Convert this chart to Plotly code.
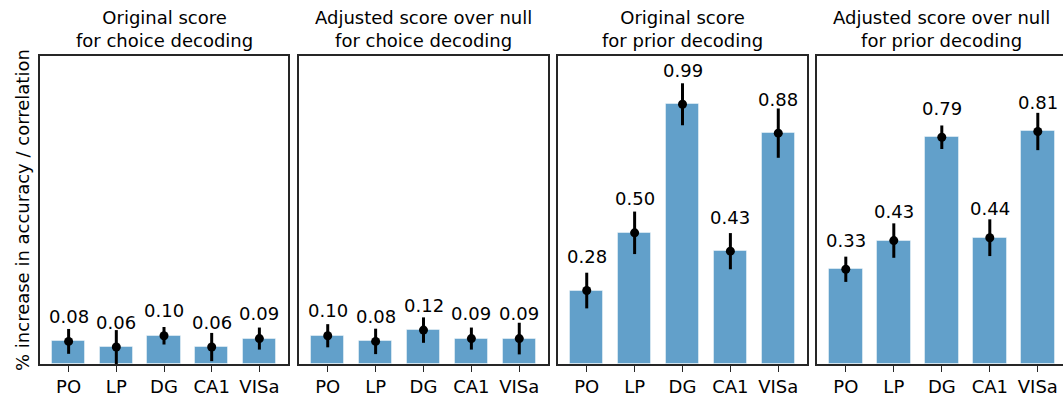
import plotly.graph_objects as go

# Brain regions shown in every panel
regions = ["PO", "LP", "DG", "CA1", "VISa"]

# Panel titles
titles = [
    "Original score<br>for choice decoding",
    "Adjusted score over null<br>for choice decoding",
    "Original score<br>for prior decoding",
    "Adjusted score over null<br>for prior decoding",
]

# Mean scores per region (one list per panel)
choice_original = [0.08, 0.06, 0.10, 0.06, 0.09]
choice_adjusted = [0.10, 0.08, 0.12, 0.09, 0.09]
prior_original = [0.28, 0.50, 0.99, 0.43, 0.88]
prior_adjusted = [0.33, 0.43, 0.79, 0.44, 0.81]

# Error bar half-widths per region
choice_original_err = [0.044, 0.060, 0.031, 0.050, 0.039]
choice_adjusted_err = [0.041, 0.045, 0.045, 0.039, 0.056]
prior_original_err = [0.068, 0.081, 0.080, 0.069, 0.094]
prior_adjusted_err = [0.044, 0.060, 0.041, 0.064, 0.065]

values = [choice_original, choice_adjusted, prior_original, prior_adjusted]
errors = [choice_original_err, choice_adjusted_err, prior_original_err, prior_adjusted_err]

W, H = 1063, 398
FONT = "DejaVu Sans"
BAR_COLOR = "rgba(31,119,180,0.7)"
SPINE = "#262626"

# pixel layout of the four panels
panel_x = [(40, 288), (299, 548), (558, 807), (817, 1063)]
x_ranges = [[-0.6, 4.6], [-0.6, 4.6], [-0.6, 4.6], [-0.6, 4.525]]
y_tops = [1.09, 1.09, 1.174, 1.073]
label_shift = [25, 25, 34, 29]
plot_top, plot_bottom = 56, 364

fig = go.Figure()
annotations = []

for k in range(4):
    sfx = "" if k == 0 else str(k + 1)
    xa, ya = "x" + sfx, "y" + sfx
    idx = list(range(len(regions)))

    fig.add_trace(go.Bar(
        x=idx, y=values[k], width=0.7,
        marker=dict(color=BAR_COLOR, line=dict(color="rgba(255,255,255,0.45)", width=1)),
        xaxis=xa, yaxis=ya, showlegend=False, hoverinfo="skip",
    ))
    fig.add_trace(go.Scatter(
        x=idx, y=values[k], mode="markers",
        marker=dict(color="black", size=9),
        error_y=dict(type="data", array=errors[k], color="black", thickness=3, width=0),
        xaxis=xa, yaxis=ya, showlegend=False, hoverinfo="skip",
    ))

    for i, v in enumerate(values[k]):
        annotations.append(dict(
            x=i, y=v, xref=xa, yref=ya, text=f"{v:.2f}", showarrow=False,
            yshift=label_shift[k], xanchor="center", yanchor="middle",
            font=dict(family=FONT, size=18, color="black"),
        ))

    x0, x1 = panel_x[k]
    dom = [x0 / W, x1 / W]
    last = k == 3
    fig.update_layout(**{
        "xaxis" + sfx: dict(
            domain=dom, range=x_ranges[k], anchor=ya,
            tickmode="array", tickvals=idx, ticktext=regions,
            showline=True, linecolor=SPINE, linewidth=1.5, mirror=True,
            ticks="outside", ticklen=6, tickwidth=1.3, tickcolor=SPINE,
            showgrid=False, zeroline=False,
            tickfont=dict(family=FONT, size=18, color="black"),
        ),
        "yaxis" + sfx: dict(
            domain=[(H - plot_bottom) / H, (H - plot_top) / H],
            range=[0, y_tops[k]], anchor=xa,
            showline=True, linecolor=SPINE, linewidth=1.5,
            mirror=False if last else True,
            showticklabels=False, ticks="", showgrid=False, zeroline=False,
        ),
    })

    annotations.append(dict(
        x=(x0 + (x1 if not last else 1066)) / 2 / W, y=(H - 29) / H,
        xref="paper", yref="paper", text=titles[k], showarrow=False,
        xanchor="center", yanchor="middle",
        font=dict(family=FONT, size=18, color="black"),
    ))

annotations.append(dict(
    x=23 / W, y=(H - 210) / H, xref="paper", yref="paper",
    text="% increase in accuracy / correlation", textangle=-90,
    showarrow=False, xanchor="center", yanchor="middle",
    font=dict(family=FONT, size=18, color="black"),
))

fig.update_layout(
    width=W, height=H,
    margin=dict(l=0, r=0, t=0, b=0),
    paper_bgcolor="white", plot_bgcolor="white",
    annotations=annotations,
    bargap=0,
)

fig.write_html("out.html")
